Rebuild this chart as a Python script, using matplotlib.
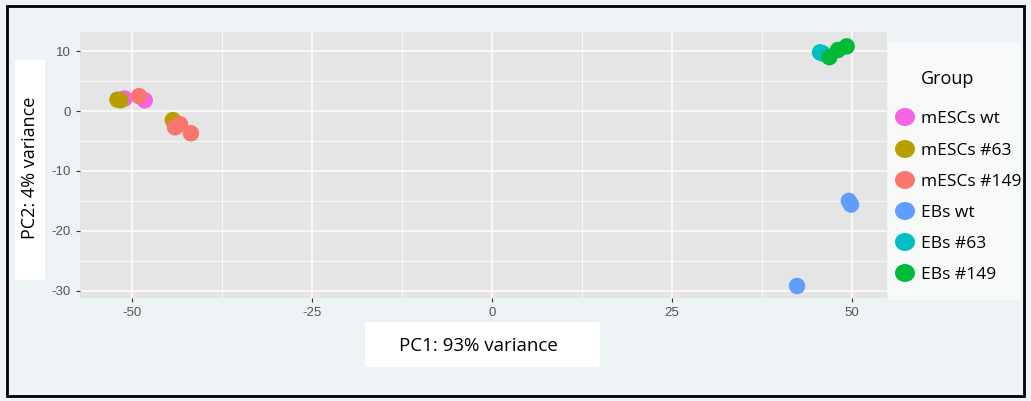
import matplotlib.pyplot as plt
from matplotlib.patches import Rectangle, Ellipse
import numpy as np

# PCA coordinates
groups = ['mESCs wt', 'mESCs #63', 'mESCs #149', 'EBs wt', 'EBs #63', 'EBs #149']
colors = ['#F564E3', '#B79F00', '#F8766D', '#619CFF', '#00BFC4', '#00BA38']
pc1 = {
    'mESCs wt': [-51.3, -48.2, -51.0],
    'mESCs #63': [-52.0, -51.6, -44.3],
    'mESCs #149': [-49.0, -44.0, -43.3, -41.8],
    'EBs wt': [49.6, 49.9, 42.4],
    'EBs #63': [45.6, 46.0, 45.8],
    'EBs #149': [46.9, 48.1, 49.3],
}
pc2 = {
    'mESCs wt': [2.0, 1.8, 2.1],
    'mESCs #63': [1.9, 1.8, -1.5],
    'mESCs #149': [2.5, -2.7, -2.2, -3.7],
    'EBs wt': [-15.0, -15.6, -29.2],
    'EBs #63': [9.8, 9.6, 9.7],
    'EBs #149': [9.0, 10.2, 10.8],
}
xticks = [-50, -25, 0, 25, 50]
yticks = [10, 0, -10, -20, -30]

plt.rcParams['font.family'] = ['Liberation Sans', 'DejaVu Sans']
plt.rcParams['axes.unicode_minus'] = False
fig = plt.figure(figsize=(10.31, 4.01), dpi=100)
fig.patch.set_facecolor('#eef3f5')
# outer black frame
fig.patches.append(Rectangle((0.007, 0.012), 0.986, 0.972, transform=fig.transFigure,
                             fill=False, edgecolor='black', linewidth=2))

ax = fig.add_axes([80 / 1031, 1 - 298 / 401, 807 / 1031, 266 / 401])
ax.set_facecolor('#e5e5e5')
for name, c in zip(groups, colors):
    ax.scatter(pc1[name], pc2[name], s=140, color=c, edgecolors='none', zorder=3)

ax.set_xlim(-57.2, 54.9)
ax.set_ylim(-31.2, 13.2)
ax.set_xticks(xticks)
ax.set_yticks(yticks)
ax.set_xticks([-37.5, -12.5, 12.5, 37.5], minor=True)
ax.set_yticks([5, -5, -15, -25], minor=True)
ax.grid(True, which='major', color='white', linewidth=1.1)
ax.grid(True, which='minor', color='white', linewidth=0.5)
ax.set_axisbelow(True)
for s in ax.spines.values():
    s.set_visible(False)
ax.tick_params(which='major', colors='#333333', labelcolor='#555555', labelsize=9.5, length=3)
ax.tick_params(which='minor', length=0)

# axis labels on white boxes
lab_font = ['Open Sans', 'DejaVu Sans']
fig.patches.append(Rectangle((365 / 1031, 1 - 367 / 401), 235 / 1031, 45 / 401,
                             transform=fig.transFigure, facecolor='white', edgecolor='none'))
fig.text(478 / 1031, 1 - 346 / 401, 'PC1: 93% variance', ha='center', va='center', fontsize=13.5,
         family=lab_font)
fig.patches.append(Rectangle((15 / 1031, 1 - 280 / 401), 30 / 1031, 220 / 401,
                             transform=fig.transFigure, facecolor='white', edgecolor='none'))
fig.text(30 / 1031, 1 - 168 / 401, 'PC2: 4% variance', ha='center', va='center', rotation=90,
         fontsize=13, family=lab_font)

# legend panel
fig.patches.append(Rectangle((888 / 1031, 1 - 300 / 401), 132 / 1031, 258 / 401,
                             transform=fig.transFigure, facecolor='#f8fafa', edgecolor='none'))
fig.text(948 / 1031, 1 - 79 / 401, 'Group', ha='center', va='center', fontsize=13,
         family=lab_font)
leg_y = [117, 149, 180, 211, 242, 273]
for name, c, yy in zip(groups, colors, leg_y):
    fig.patches.append(Ellipse((905 / 1031, 1 - yy / 401), 20 / 1031, 18 / 401,
                               transform=fig.transFigure, facecolor=c, edgecolor='none'))
    fig.text(921 / 1031, 1 - (yy + 2) / 401, name, ha='left', va='center', fontsize=12.5,
             family=lab_font)

fig.savefig('out.png', dpi=100, facecolor=fig.get_facecolor())
